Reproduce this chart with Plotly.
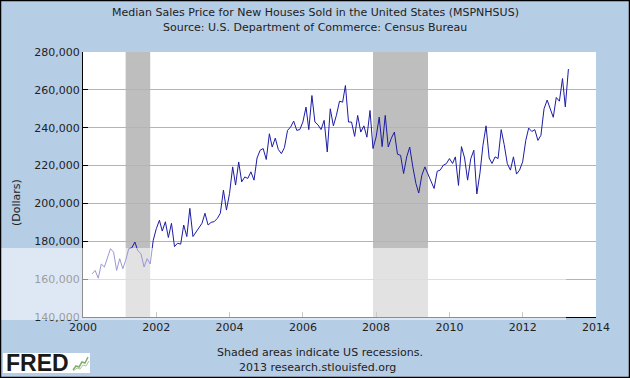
import pandas as pd
import plotly.graph_objects as go

# ---------------- data ----------------
start_month = "2000-04-01"
prices = [
    162800, 164600, 160500, 168000, 166400, 170800, 176100, 174300, 164600,          # 2000 Apr-Dec
    170800, 165500, 169900, 176100, 176500, 179600, 175000, 173400, 166400, 170800, 168000, 180500,  # 2001
    186700, 191100, 185400, 190300, 182000, 189500, 177200, 179000, 178500, 188600, 182500, 197400,  # 2002
    182500, 185000, 186900, 189500, 194800, 188600, 190000, 190400, 192100, 194800, 207000, 196500,  # 2003
    205300, 219300, 209700, 221900, 211400, 214000, 213200, 216700, 212300, 224000, 228100, 229000,  # 2004
    223200, 236800, 229800, 234500, 228500, 226300, 229500, 238600, 240400, 243500, 238600, 239000,  # 2005
    243000, 250900, 239000, 257000, 243000, 241500, 239000, 243900, 227200, 250000, 241000, 246500,  # 2006
    254000, 253500, 262300, 243000, 243000, 235400, 246500, 237700, 241000, 235000, 249100, 229000,  # 2007
    235100, 245600, 230000, 246500, 229800, 234500, 237700, 226000, 225400, 215800, 224600, 229800,  # 2008
    219300, 210500, 205500, 214900, 219300, 215500, 212300, 207900, 217000, 217600, 220200, 221000,  # 2009
    223700, 221100, 224600, 209500, 230000, 224000, 212300, 223500, 228100, 205000, 216000, 230700,  # 2010
    241000, 224000, 221100, 224600, 223700, 239000, 231000, 221000, 217600, 224600, 215500, 217600,  # 2011
    222000, 233300, 239800, 238000, 239000, 233300, 236000, 250000, 254600, 250000, 245500, 256000,  # 2012
    254000, 266000, 251000, 271000,                                                                    # 2013
]
dates = pd.date_range(start_month, periods=len(prices), freq="MS")

recession_starts = ["2001-03-01", "2007-12-01"]
recession_ends = ["2001-11-01", "2009-06-01"]

x_range = ["2000-01-01", "2014-01-01"]
y_range = [140000, 280000]
y_step = 20000

title_line1 = "Median Sales Price for New Houses Sold in the United States (MSPNHSUS)"
title_line2 = "Source: U.S. Department of Commerce: Census Bureau"
footer_line1 = "Shaded areas indicate US recessions."
footer_line2 = "2013 research.stlouisfed.org"
y_title = "(Dollars)"

# ---------------- layout geometry ----------------
W, H = 630, 378
L, R, T, B = 83, 34, 52, 61
pw, ph = W - L - R, H - T - B


def px(x):
    return (x - L) / pw


def py(y):
    return (H - B - y) / ph


BG = "#B6CDE6"
FONT = "DejaVu Sans"

fig = go.Figure()
fig.add_trace(go.Scatter(
    x=dates, y=prices, mode="lines",
    line=dict(color="#1C1CA4", width=1),
    hoverinfo="x+y", showlegend=False,
))

shapes = []
for s, e in zip(recession_starts, recession_ends):
    shapes.append(dict(type="rect", xref="x", yref="paper", x0=s, x1=e, y0=0, y1=1,
                       fillcolor="#BEBEBE", line=dict(width=0), layer="below"))

# faded band (photo watermark) over lower-left
shapes.append(dict(type="rect", xref="paper", yref="paper",
                   x0=px(0), x1=px(566), y0=py(320), y1=py(248),
                   fillcolor="rgba(255,255,255,0.55)", line=dict(width=0), layer="above"))

# FRED logo box + icon
shapes.append(dict(type="rect", xref="paper", yref="paper",
                   x0=px(3), x1=px(90), y0=py(373), y1=py(353),
                   fillcolor="white", line=dict(width=0), layer="above"))
icon_pts = [(73, 370), (76, 366), (79, 367), (82, 362), (85, 363), (88, 357)]
path = "M " + " L ".join(f"{px(a)},{py(b)}" for a, b in icon_pts)
shapes.append(dict(type="path", xref="paper", yref="paper", path=path,
                   line=dict(color="#7FAF6A", width=1.5), layer="above"))
icon_pts2 = [(73, 371), (77, 368), (80, 369), (83, 365), (86, 366), (89, 361)]
path2 = "M " + " L ".join(f"{px(a)},{py(b)}" for a, b in icon_pts2)
shapes.append(dict(type="path", xref="paper", yref="paper", path=path2,
                   line=dict(color="#A9C79C", width=1), layer="above"))

# outer black border
shapes.append(dict(type="rect", xref="paper", yref="paper",
                   x0=px(0.5), x1=px(W - 0.5), y0=py(H - 0.5), y1=py(0.5),
                   line=dict(color="black", width=1.5), fillcolor="rgba(0,0,0,0)", layer="above"))

annotations = [
    dict(text=title_line1, x=px(315), y=py(12), xref="paper", yref="paper",
         showarrow=False, xanchor="center", yanchor="middle",
         font=dict(family=FONT, size=11, color="#222222")),
    dict(text=title_line2, x=px(315), y=py(27), xref="paper", yref="paper",
         showarrow=False, xanchor="center", yanchor="middle",
         font=dict(family=FONT, size=11, color="#222222")),
    dict(text=footer_line1, x=px(320), y=py(352), xref="paper", yref="paper",
         showarrow=False, xanchor="center", yanchor="middle",
         font=dict(family=FONT, size=11, color="#222222")),
    dict(text=footer_line2, x=px(317), y=py(367), xref="paper", yref="paper",
         showarrow=False, xanchor="center", yanchor="middle",
         font=dict(family=FONT, size=11, color="#222222")),
    dict(text=y_title, x=px(16), y=py(203), xref="paper", yref="paper", textangle=-90,
         showarrow=False, xanchor="center", yanchor="middle",
         font=dict(family=FONT, size=11, color="#222222")),
    dict(text="<b>FRED</b>", x=px(4), y=py(363), xref="paper", yref="paper",
         showarrow=False, xanchor="left", yanchor="middle",
         font=dict(family="Liberation Sans", size=23, color="#1A1A1A")),
]

fig.update_layout(
    width=W, height=H,
    margin=dict(l=L, r=R, t=T, b=B, pad=0),
    paper_bgcolor=BG, plot_bgcolor="white",
    shapes=shapes, annotations=annotations,
    font=dict(family=FONT, size=11, color="#222222"),
    xaxis=dict(
        type="date", range=x_range, dtick="M24", tick0="2000-01-01", tickformat="%Y",
        showgrid=False, showline=True, linecolor="black", linewidth=1,
        ticks="inside", ticklen=5, tickcolor="#888888",
        tickfont=dict(family=FONT, size=11, color="#222222"), zeroline=False,
    ),
    yaxis=dict(
        range=y_range, dtick=y_step, tick0=y_range[0], tickformat=",d",
        showgrid=True, gridcolor="#B4B4B4", gridwidth=1,
        showline=True, linecolor="black", linewidth=1,
        ticks="inside", ticklen=5, tickcolor="black",
        tickfont=dict(family=FONT, size=11, color="#222222"), zeroline=False,
    ),
)

fig.write_html("out.html", config={"displayModeBar": False},
               post_script="document.body.style.margin='0px';")
